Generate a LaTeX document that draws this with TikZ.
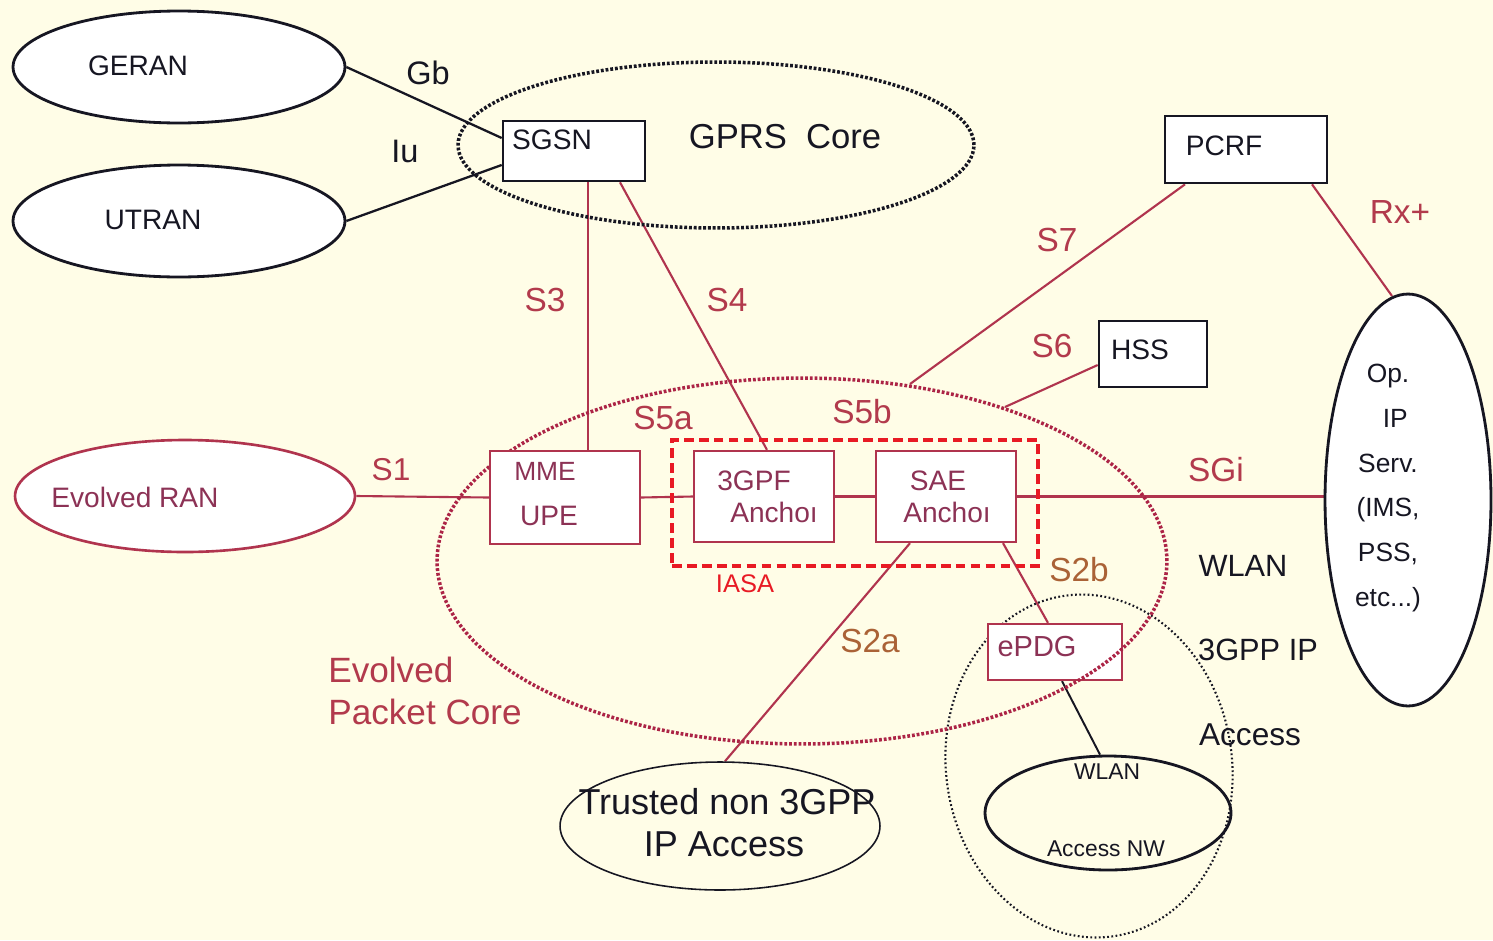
\documentclass[tikz,border=0pt]{standalone}
\usepackage{fontspec}
\setmainfont{Liberation Sans}
\usetikzlibrary{shapes.geometric,calc}
\pgfdeclarelayer{bg}
\pgfdeclarelayer{lines}
\pgfsetlayers{bg,lines,main}

\definecolor{bgcream}{RGB}{255,253,231}
\definecolor{linkred}{RGB}{176,52,78}
\definecolor{labelred}{RGB}{178,58,76}
\definecolor{boxtext}{RGB}{140,50,85}
\definecolor{orangebrown}{RGB}{170,98,54}
\definecolor{iasared}{RGB}{232,26,36}
\definecolor{epcdot}{RGB}{172,36,70}
\definecolor{inkblack}{RGB}{22,22,34}

\tikzset{
  blackoval/.style={ellipse, draw=inkblack, line width=1.6pt, fill=white, inner sep=0pt},
  redoval/.style={ellipse, draw=linkred, line width=1.5pt, fill=white, inner sep=0pt},
  thinoval/.style={ellipse, draw=inkblack, line width=0.9pt, inner sep=0pt},
  gprsdots/.style={ellipse, draw=inkblack, line width=2pt, dash pattern=on 1.6pt off 1.1pt, inner sep=0pt},
  epcdots/.style={ellipse, draw=epcdot, line width=2pt, dash pattern=on 1.6pt off 1.1pt, inner sep=0pt},
  wlandots/.style={ellipse, draw=inkblack, line width=1.2pt, dash pattern=on 1pt off 1.4pt, inner sep=0pt},
  plainbox/.style={rectangle, draw=inkblack, line width=1.5pt, fill=white, inner sep=0pt},
  redbox/.style={rectangle, draw=linkred, line width=1.3pt, fill=white, inner sep=0pt},
  iasabox/.style={rectangle, draw=iasared, line width=2.3pt, dash pattern=on 5.5pt off 3pt, inner sep=0pt},
  blackline/.style={draw=inkblack, line width=1.3pt},
  redline/.style={draw=linkred, line width=1.2pt},
  blacktext/.style={inner sep=0pt, text=inkblack, font=\fontsize{16}{19}\selectfont},
  boxlabel/.style={inner sep=0pt, text=boxtext, font=\fontsize{16}{19}\selectfont},
  ifacelabel/.style={inner sep=0pt, text=labelred, font=\fontsize{19}{22}\selectfont},
  s2label/.style={inner sep=0pt, text=orangebrown, font=\fontsize{19}{22}\selectfont},
}

\begin{document}
\begin{tikzpicture}[x=0.02cm, y=-0.02cm]
\begin{pgfonlayer}{bg}
  \fill[bgcream] (0,0) rectangle (1493,940);
\end{pgfonlayer}
\useasboundingbox (0,0) rectangle (1493,940);

% access networks and service domain
\node[blackoval, minimum width=6.64cm, minimum height=2.24cm] (geran) at (179,67) {};
\node[blackoval, minimum width=6.64cm, minimum height=2.24cm] (utran) at (179,221) {};
\node[blackoval, minimum width=3.32cm, minimum height=8.24cm] (opip) at (1408,500) {};
\node[redoval, minimum width=6.8cm, minimum height=2.24cm] (eran) at (185,496) {};
\node[thinoval, minimum width=6.4cm, minimum height=2.56cm] (trusted) at (720,826) {};
\node[blackoval, fill=none, minimum width=4.92cm, minimum height=2.28cm] (wlannw) at (1108,813) {};
\node[wlandots, rotate=8, minimum width=5.72cm, minimum height=6.88cm] (wlanarea) at (1089,766) {};

% ePDG sits under the EPC boundary
\node[redbox, minimum width=2.68cm, minimum height=1.12cm] (epdg) at (1055,652) {};

% core boundaries
\node[epcdots, minimum width=14.6cm, minimum height=7.32cm] (epc) at (802,561) {};
\node[gprsdots, minimum width=10.32cm, minimum height=3.32cm] (gprs) at (716,145) {};

% functional entities
\node[plainbox, minimum width=2.84cm, minimum height=1.2cm] (sgsn) at (574,151) {};
\node[plainbox, minimum width=3.24cm, minimum height=1.34cm] (pcrf) at (1246,149.5) {};
\node[plainbox, minimum width=2.16cm, minimum height=1.32cm] (hss) at (1153,354) {};
\node[redbox, minimum width=3cm, minimum height=1.86cm] (mme) at (565,497.5) {};
\node[iasabox, minimum width=7.32cm, minimum height=2.52cm] (iasa) at (855,503) {};
\node[redbox, minimum width=2.8cm, minimum height=1.82cm] (gpfa) at (764,496.5) {};
\node[redbox, minimum width=2.8cm, minimum height=1.82cm] (saea) at (946,496.5) {};

% free ends of links that stop on the EPC boundary / service ellipse
\coordinate (s7end) at (910,384);
\coordinate (s6end) at (1005,407);
\coordinate (rxend) at (1392,296);

\begin{pgfonlayer}{lines}
  \draw[blackline] (geran.east) -- ([yshift=0.26cm]sgsn.west);
  \draw[blackline] (utran.east) -- ([yshift=-0.28cm]sgsn.west);
  \draw[redline] ([xshift=0.28cm]sgsn.south) -- ([xshift=0.28cm]sgsn.south |- mme.north);
  \draw[redline] ([xshift=0.92cm]sgsn.south) -- ([xshift=0.06cm]gpfa.north);
  \draw[redline] ([xshift=-1.22cm]pcrf.south) -- (s7end);
  \draw[redline] ([xshift=1.32cm]pcrf.south) -- (rxend);
  \draw[redline] ([yshift=-0.22cm]hss.west) -- (s6end);
  \draw[redline] (eran.east) -- (mme.west);
  \draw[redline] (mme.east) -- (gpfa.west);
  \draw[redline] (gpfa.east) -- (saea.west);
  \draw[redline] (saea.east) -- (saea.east -| opip.west);
  \draw[redline] ([xshift=-0.72cm]saea.south) -- ([xshift=0.1cm]trusted.north);
  \draw[redline] ([xshift=1.14cm]saea.south) -- ([xshift=-0.14cm]epdg.north);
  \draw[blackline, line width=1.1pt] ([xshift=0.14cm]epdg.south) -- ([xshift=-0.16cm]wlannw.north);
\end{pgfonlayer}

% texts
\node[blacktext] (tgeran) at (138,66) {GERAN};
\node[blacktext] (tutran) at (153,220) {UTRAN};
\node[blacktext, font=\fontsize{18.5}{21}\selectfont] (tgb) at (428,73) {Gb};
\node[blacktext, font=\fontsize{18.5}{21}\selectfont] (tiu) at (405,151) {Iu};
\node[blacktext] (tsgsn) at (552,140) {SGSN};
\node[blacktext, font=\fontsize{19.7}{23}\selectfont] (tgprs) at (785,137) {GPRS~~Core};
\node[blacktext] (tpcrf) at (1224,146) {PCRF};
\node[blacktext] (thss) at (1140,350) {HSS};
\node[blacktext, font=\fontsize{15}{25.5}\selectfont, align=center] (topip) at (1388,488)
  {Op.\\\ \ IP\\Serv.\\(IMS,\\PSS,\\etc...)};

\node[ifacelabel] (ls7) at (1057,240) {S7};
\node[ifacelabel] (lrx) at (1400,212) {Rx+};
\node[ifacelabel] (ls3) at (545,300) {S3};
\node[ifacelabel] (ls4) at (727,300) {S4};
\node[ifacelabel] (ls6) at (1052,346) {S6};
\node[ifacelabel] (ls5a) at (663,418) {S5a};
\node[ifacelabel] (ls5b) at (862,412) {S5b};
\node[ifacelabel, font=\fontsize{18}{21}\selectfont] (ls1) at (391,470) {S1};
\node[ifacelabel] (lsgi) at (1216,470) {SGi};
\node[s2label] (ls2b) at (1079,570) {S2b};
\node[s2label] (ls2a) at (870,641) {S2a};

\node[boxlabel] (teran) at (135,497) {Evolved RAN};
\node[boxlabel, font=\fontsize{15}{18}\selectfont] (tmme) at (545,471) {MME};
\node[boxlabel] (tupe) at (549,516) {UPE};
\node[boxlabel] (tgpf) at (754,481) {3GPF};
\node[boxlabel] (tgpfanc) at (774,512) {Ancho\i};
\node[boxlabel] (tsae) at (938,481) {SAE};
\node[boxlabel] (tsaeanc) at (947,512) {Ancho\i};
\node[boxlabel, text=iasared, font=\fontsize{14.5}{17}\selectfont] (tiasa) at (745,584) {IASA};
\node[boxlabel, font=\fontsize{16.5}{19}\selectfont] (tepdg) at (1037,647) {ePDG};
\node[ifacelabel, font=\fontsize{20}{23.5}\selectfont, align=left, anchor=west] (tepc) at (328,691)
  {Evolved\\Packet Core};

\node[blacktext, font=\fontsize{17.5}{20}\selectfont] (twlan) at (1243,566) {WLAN};
\node[blacktext, font=\fontsize{17.5}{20}\selectfont] (t3gpp) at (1258,650) {3GPP IP};
\node[blacktext, font=\fontsize{18}{21}\selectfont] (taccess) at (1250,735) {Access};
\node[blacktext, font=\fontsize{13}{15}\selectfont] (twlansmall) at (1107,772) {WLAN};
\node[blacktext, font=\fontsize{13}{15}\selectfont] (taccnw) at (1106,849) {Access NW};
\node[blacktext, font=\fontsize{20.5}{24}\selectfont] (ttrusted) at (727,802) {Trusted non 3GPP};
\node[blacktext, font=\fontsize{20.5}{24}\selectfont] (tipacc) at (724,844) {IP Access};
\end{tikzpicture}
\end{document}
